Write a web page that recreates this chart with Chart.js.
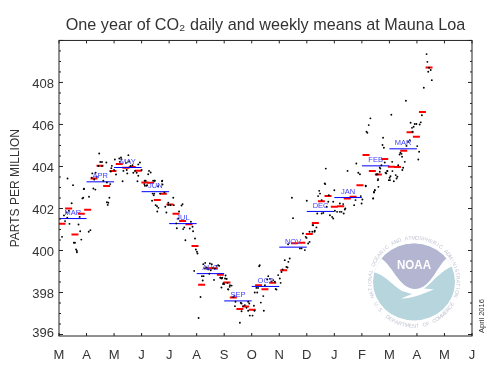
<!DOCTYPE html>
<html>
<head>
<meta charset="utf-8">
<title>Mauna Loa CO2</title>
<script src="https://cdn.jsdelivr.net/npm/chart.js@4"></script>
<style>
  html, body { margin: 0; padding: 0; background: #fff; }
  canvas { display: block; }
</style>
</head>
<body>
<canvas id="chart" width="493" height="379"></canvas>
<script>
// x values are in months since the start of March, y values in ppm
var axisMonths = ['M','A','M','J','J','A','S','O','N','D','J','F','M','A','M','J'];
var meanNames = ['MAR','APR','MAY','JUN','JUL','AUG','SEP','OCT','NOV','DEC','JAN','FEB','MAR'];
var monthlyPpm = [401.52,403.27,403.95,402.8,401.28,398.9,397.6,398.29,400.16,401.86,402.52,404.03,404.84];

var weeklyMonth = [0.11,0.35,0.58,0.81,1.04,1.27,1.49,1.73,1.96,2.19,2.43,2.66,2.88,3.12,3.33,3.57,3.79,4.03,4.25,4.49,4.72,4.94,5.18,5.42,5.63,5.86,6.1,6.33,6.57,6.78,7.02,7.25,7.48,7.76,8.16,8.55,8.82,9.09,9.31,9.53,9.77,10.0,10.23,10.47,10.68,10.93,11.15,11.38,11.6,11.83,12.07,12.29,12.52,12.75,12.98,13.2,13.44];
var weeklyPpm = [401.27,402.0,400.76,401.75,401.94,403.43,404.03,403.07,403.78,404.12,403.94,403.97,403.8,403.24,403.22,402.4,402.7,402.19,401.75,401.4,401.25,400.21,398.37,399.16,399.16,398.84,398.48,397.76,397.22,397.34,397.18,398.34,398.16,398.47,399.06,400.35,400.37,400.78,401.31,402.35,402.59,402.08,402.11,402.48,402.56,403.11,404.55,403.78,403.62,404.36,403.99,403.97,404.75,405.63,405.41,406.59,408.71];

var dailyMonth = [0.11,0.18,0.28,0.36,0.30,0.38,0.22,0.46,0.71,0.75,0.77,0.81,0.54,0.58,0.62,0.65,0.65,0.85,0.88,0.91,1.09,1.08,1.14,1.25,1.32,1.77,1.79,1.83,1.74,0.31,0.51,0.90,
  1.46,1.50,1.56,1.72,1.43,1.56,1.21,1.19,1.33,1.37,1.28,1.61,1.74,1.86,1.92,1.90,2.03,2.19,2.25,2.27,2.21,2.52,2.43,2.55,2.67,2.60,2.94,2.88,2.76,2.82,2.70,2.46,2.34,2.48,2.31,2.07,2.00,1.88,2.85,3.00,2.88,
  3.24,3.27,3.33,3.48,3.75,3.15,3.10,3.20,3.76,3.60,3.42,3.11,3.18,3.12,3.47,3.74,3.40,3.46,3.44,3.83,3.67,4.15,3.38,3.51,3.56,3.61,3.57,3.97,3.97,4.05,4.17,3.86,4.49,4.45,3.90,4.36,4.33,4.26,4.28,4.55,4.51,4.75,4.79,4.85,4.87,4.59,4.94,4.97,5.01,5.03,4.91,
  5.24,5.31,5.48,5.55,5.72,5.78,5.82,5.66,5.51,5.42,5.30,5.36,5.60,5.19,5.25,5.22,5.46,5.63,5.86,5.93,6.08,6.05,5.90,5.96,6.14,6.20,5.14,5.07,
  6.03,6.09,5.91,5.87,6.00,5.97,6.21,6.27,6.15,6.12,6.39,6.60,6.63,6.41,6.75,6.91,6.87,6.33,6.37,7.08,6.69,6.81,6.63,6.87,6.93,7.03,7.10,6.57,7.33,7.42,7.44,7.11,7.20,7.17,7.23,7.27,7.29,7.60,7.56,7.48,7.66,7.72,7.78,7.84,7.90,7.87,8.02,8.05,7.96,8.08,8.12,8.20,8.33,8.38,8.26,8.30,8.32,
  8.46,8.50,8.75,8.81,8.93,9.05,9.10,8.96,8.86,8.99,9.10,9.20,9.28,9.23,9.35,9.38,9.54,9.60,9.72,9.54,9.48,9.45,9.00,9.80,9.67,9.29,9.21,9.41,9.69,9.65,9.78,9.84,9.96,10.0,9.96,9.92,10.2,10.26,10.32,10.34,10.38,10.4,10.1,10.2,10.02,
  10.48,10.8,10.87,10.93,10.96,10.99,10.77,10.72,11.14,11.41,11.47,11.44,11.59,11.57,11.65,11.86,11.92,12.02,
  13.35,13.38,13.44,13.5,13.41,13.54,13.25,12.6,12.07,11.31,11.25,11.17,11.2,13.18,13.14,13.1,12.77,12.92,12.98,12.88,12.82,12.84,12.74,12.68,11.77,11.75,11.8,12.62,13.01,13.08,13.05,12.4,12.37,12.44,12.46,12.56,12.1,11.83,11.71,11.67,12.32,12.5,12.47,12.11,11.93,11.65,11.89,11.53,12.04,12.01,11.98,12.23,12.29,12.26,12.16,11.58,11.6,11.47,11.44,11.14,11.02,11.41];
var dailyPpm = [400.65,401.67,401.81,401.89,401.56,401.27,401.40,402.25,401.24,401.60,400.92,400.52,400.37,400.37,400.05,399.92,399.98,402.48,402.51,402.94,402.56,400.89,400.97,402.95,402.90,402.17,402.27,402.51,402.30,403.43,403.11,402.92,
  404.62,404.21,404.21,404.19,404.02,404.02,403.67,403.46,403.70,403.51,403.38,403.32,403.24,403.16,404.03,403.92,404.33,404.38,404.43,404.35,404.22,404.54,404.17,404.25,404.06,404.02,404.19,404.10,403.79,403.70,403.70,403.83,403.79,403.67,403.30,403.62,403.83,403.76,403.30,403.83,403.56,
  403.63,403.79,403.71,403.32,403.32,403.32,403.16,403.11,403.14,403.06,403.32,403.32,403.08,403.08,403.32,403.30,402.71,402.71,402.63,402.76,402.71,402.51,402.37,402.16,402.11,402.03,401.86,402.27,402.17,402.16,402.16,402.08,402.21,402.14,401.81,401.86,401.52,401.29,401.06,401.10,401.02,401.05,401.37,401.13,400.92,400.49,400.57,400.05,399.94,399.86,399.03,
  399.35,399.41,399.38,399.35,399.27,399.30,399.27,399.13,399.06,399.10,399.14,399.19,399.17,398.78,398.78,398.57,398.89,398.60,398.70,398.70,398.65,398.81,398.24,398.40,398.16,398.27,397.79,396.79,
  398.67,398.65,398.67,398.70,398.40,398.44,398.35,398.33,398.14,398.46,397.35,397.51,397.48,397.56,397.40,397.48,397.56,397.79,397.84,397.37,397.35,397.27,397.11,397.13,396.90,396.90,397.13,396.56,397.52,397.83,397.13,398.00,398.00,398.22,398.22,399.25,399.30,398.78,398.62,398.35,398.65,398.52,398.59,398.51,398.14,398.17,398.67,398.46,398.83,398.98,399.10,399.54,399.46,399.62,399.22,399.19,400.30,
  402.51,401.54,400.10,400.10,400.02,400.33,400.41,400.65,400.81,400.60,400.89,400.89,400.89,401.20,401.10,401.76,401.76,401.79,402.08,402.40,402.71,402.84,402.37,402.63,403.16,400.94,401.21,402.59,403.90,403.19,402.32,401.68,402.32,402.87,401.52,401.60,402.24,401.84,402.21,401.76,401.95,402.00,401.84,401.84,401.89,
  403.79,404.14,403.70,403.63,402.59,402.24,402.40,402.16,403.08,402.48,402.87,402.79,403.40,403.63,403.95,403.70,403.79,403.35,
  409.35,408.98,408.70,408.59,408.51,408.11,407.75,407.13,406.46,406.29,405.97,405.65,405.60,406.44,406.10,406.00,406.08,406.02,406.02,405.89,405.84,405.65,405.25,405.17,405.37,405.02,404.89,404.98,404.97,404.70,404.33,404.65,404.57,404.60,404.46,404.22,404.22,404.19,404.06,403.90,404.06,403.94,403.83,403.78,403.78,403.75,403.67,403.62,403.54,403.46,403.35,403.59,403.51,403.43,403.30,403.35,403.03,402.87,402.76,403.06,402.43,402.48];

var yLabelTicks = [396,398,400,402,404,406,408];
var yMinorStep = 0.5;

// monthly means are flat segments, one null between them to break the line
function monthlySegments() {
  var pts = [];
  monthlyPpm.forEach(function (v, i) {
    pts.push({ x: i, y: v }, { x: i + 1, y: v }, { x: i + 1, y: null });
  });
  return pts;
}

function zip(xs, ys) {
  return xs.map(function (x, i) { return { x: x, y: ys[i] }; });
}

// text spread along an arc, one char at a time
function arcText(ctx, text, cx, cy, r, from, to, upright) {
  var step = (to - from) / (text.length - 1);
  for (var i = 0; i < text.length; i++) {
    var a = (from + step * i) * Math.PI / 180;
    ctx.save();
    ctx.translate(cx + r * Math.cos(a), cy + r * Math.sin(a));
    ctx.rotate(upright ? a - Math.PI / 2 : a + Math.PI / 2);
    ctx.fillText(text[i], 0, 0);
    ctx.restore();
  }
}

function drawLogo(ctx) {
  var cx = 414, cy = 282;
  ctx.save();
  ctx.beginPath();
  ctx.ellipse(cx, cy, 41, 38.5, 0, 0, Math.PI * 2);
  ctx.clip();
  ctx.fillStyle = '#b6d5dc';
  ctx.fillRect(cx - 45, cy - 45, 90, 90);
  // dome
  ctx.fillStyle = '#b3b5d1';
  ctx.beginPath();
  ctx.moveTo(378, 257);
  ctx.bezierCurveTo(392, 262, 398, 289, 415, 289);
  ctx.bezierCurveTo(432, 289, 438, 262, 449, 257);
  ctx.lineTo(449, 235);
  ctx.lineTo(378, 235);
  ctx.closePath();
  ctx.fill();
  // the white bird between the two colours
  ctx.fillStyle = '#fff';
  ctx.beginPath();
  ctx.moveTo(370, 271);
  ctx.bezierCurveTo(385, 274, 392, 285, 402, 291);
  ctx.lineTo(412, 294);
  ctx.lineTo(401, 298.5);
  ctx.bezierCurveTo(412, 299, 425, 293, 434, 289.5);
  ctx.lineTo(424, 288.5);
  ctx.bezierCurveTo(433, 283, 440, 270, 456, 265);
  ctx.lineTo(456, 257);
  ctx.lineTo(449, 257);
  ctx.bezierCurveTo(438, 262, 432, 289, 415, 289);
  ctx.bezierCurveTo(398, 289, 392, 262, 378, 257);
  ctx.lineTo(370, 262);
  ctx.closePath();
  ctx.fill();
  ctx.restore();

  ctx.save();
  ctx.fillStyle = '#fff';
  ctx.font = 'bold 13.5px "Liberation Sans"';
  ctx.textAlign = 'center';
  ctx.textBaseline = 'alphabetic';
  ctx.fillText('NOAA', cx, 269, 34);
  ctx.fillStyle = '#c2c4d4';
  ctx.font = '5.2px "Liberation Sans"';
  arcText(ctx, 'NATIONAL OCEANIC AND ATMOSPHERIC ADMINISTRATION', cx, cy, 42.5, 161, 378, false);
  arcText(ctx, 'U.S. DEPARTMENT OF COMMERCE', cx, cy, 45.5, 150, 30, true);
  ctx.restore();
}

var framePlugin = {
  id: 'frame',
  beforeDraw: function (chart) {
    // the 396 label sits a little higher than its tick in the reference
    chart.scales.y.getLabelItems()[0].options.translation[1] -= 3;
  },
  beforeDatasetsDraw: function (chart) {
    drawLogo(chart.ctx);
  },
  afterDatasetsDraw: function (chart) {
    var ctx = chart.ctx, a = chart.chartArea, x = chart.scales.x, y = chart.scales.y;
    ctx.save();
    ctx.strokeStyle = '#222';
    ctx.lineWidth = 1;
    ctx.strokeRect(a.left, a.top, a.right - a.left, a.bottom - a.top);
    ctx.beginPath();
    // inward ticks on all four sides
    for (var m = 0; m < axisMonths.length; m++) {
      var px = x.getPixelForValue(m);
      ctx.moveTo(px, a.top); ctx.lineTo(px, a.top + 3);
      ctx.moveTo(px, a.bottom); ctx.lineTo(px, a.bottom - 3);
    }
    for (var v = 396; v <= 410; v += yMinorStep) {
      var py = y.getPixelForValue(v);
      var len = v % 2 === 0 ? 4 : 2;
      ctx.moveTo(a.left, py); ctx.lineTo(a.left + len, py);
      ctx.moveTo(a.right, py); ctx.lineTo(a.right - len, py);
    }
    ctx.stroke();

    // month names over the monthly means
    ctx.fillStyle = '#4040ff';
    ctx.font = '7.5px "Liberation Sans"';
    ctx.textAlign = 'center';
    ctx.textBaseline = 'alphabetic';
    meanNames.forEach(function (name, i) {
      ctx.fillText(name, x.getPixelForValue(i + 0.5), y.getPixelForValue(monthlyPpm[i]) - 3.5);
    });

    // date stamp on the right
    ctx.fillStyle = '#333';
    ctx.font = '7.5px "Liberation Sans"';
    ctx.translate(483.5, 316);
    ctx.rotate(-Math.PI / 2);
    ctx.fillText('April 2016', 0, 0);
    ctx.restore();
  }
};

new Chart(document.getElementById('chart').getContext('2d'), {
  type: 'scatter',
  data: {
    datasets: [{
      label: 'daily',
      data: zip(dailyMonth, dailyPpm),
      order: 1,
      pointRadius: 0.95,
      pointBorderWidth: 0,
      pointBackgroundColor: '#000'
    }, {
      label: 'monthly',
      data: monthlySegments(),
      order: 2,
      showLine: true,
      spanGaps: false,
      borderColor: '#0000ff',
      borderWidth: 1,
      pointRadius: 0
    }, {
      label: 'weekly',
      data: zip(weeklyMonth, weeklyPpm),
      order: 3,
      pointStyle: 'line',
      pointRadius: 3.5,
      pointBorderWidth: 2,
      pointBorderColor: '#ff0000'
    }]
  },
  plugins: [framePlugin],
  options: {
    responsive: false,
    animation: false,
    devicePixelRatio: 1,
    layout: { padding: { left: 0, right: 21, top: 0, bottom: 0 } },
    plugins: {
      legend: { display: false },
      tooltip: { enabled: false },
      title: {
        display: true,
        fullSize: false,
        text: 'One year of CO\u2082 daily and weekly means at Mauna Loa',
        color: '#333',
        font: { family: '"Liberation Sans"', size: 16.2, weight: 'normal' },
        padding: { top: 16, bottom: 5 }
      }
    },
    scales: {
      x: {
        type: 'linear',
        min: 0,
        max: 15,
        afterFit: function (s) { s.height = 43; },
        grid: { display: false, drawTicks: false },
        border: { display: false },
        ticks: {
          stepSize: 1,
          autoSkip: false,
          maxRotation: 0,
          padding: 12,
          color: '#333',
          font: { family: '"Liberation Sans"', size: 13 },
          callback: function (v) { return axisMonths[v]; }
        }
      },
      y: {
        type: 'linear',
        min: 395.93,
        max: 410,
        afterFit: function (s) { s.width = 59; },
        afterBuildTicks: function (s) {
          s.ticks = yLabelTicks.map(function (v) { return { value: v }; });
        },
        grid: { display: false, drawTicks: false },
        border: { display: false },
        title: {
          display: true,
          text: 'PARTS PER MILLION',
          color: '#333',
          font: { family: '"Liberation Sans"', size: 12 },
          padding: { top: 8, bottom: 0 }
        },
        ticks: {
          padding: 5,
          labelOffset: 1.5,
          color: '#333',
          font: { family: '"Liberation Sans"', size: 13 },
          callback: function (v) { return String(v); }
        }
      }
    }
  }
});
</script>
</body>
</html>
